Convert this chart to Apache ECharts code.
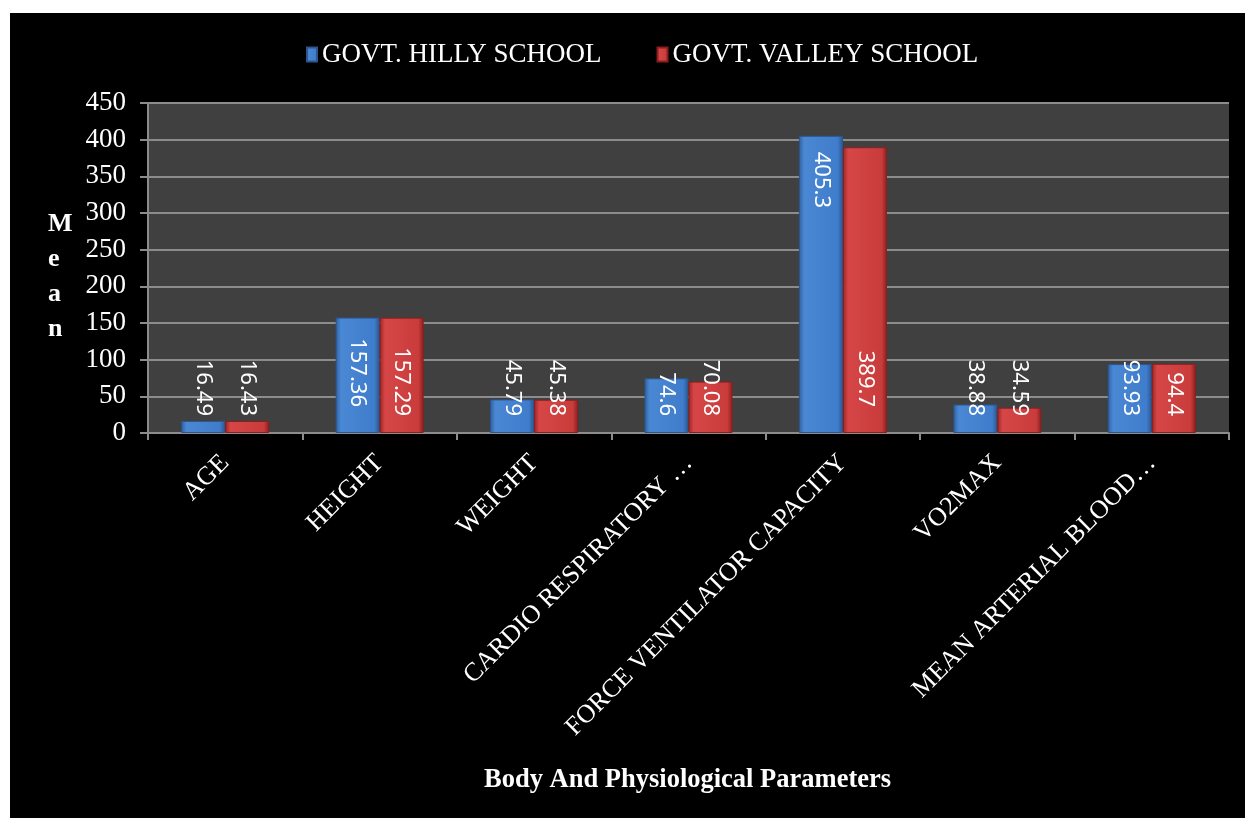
<!DOCTYPE html>
<html>
<head>
<meta charset="utf-8">
<script src="https://cdn.jsdelivr.net/npm/echarts@6/dist/echarts.min.js"></script>
<style>
  html, body { margin: 0; padding: 0; background: #fff; }
  #chart { position: absolute; left: 10px; top: 13px; width: 1235px; height: 805px; }
</style>
</head>
<body>
<div id="chart"></div>
<script>
"use strict";

const categories = ["AGE", "HEIGHT", "WEIGHT", "CARDIO RESPIRATORY …", "FORCE VENTILATOR CAPACITY", "VO2MAX", "MEAN ARTERIAL BLOOD…"];
const hillyValues = [16.49, 157.36, 45.79, 74.6, 405.3, 38.88, 93.93];
const valleyValues = [16.43, 157.29, 45.38, 70.08, 389.7, 34.59, 94.4];
const seriesNames = ["GOVT. HILLY SCHOOL", "GOVT. VALLEY SCHOOL"];

const serif = "'Liberation Serif', 'Times New Roman', serif";

let myChart = echarts.init(document.getElementById('chart'));

function grad(c0, c1, c2, c3) {
  return new echarts.graphic.LinearGradient(0, 0, 1, 0, [
    { offset: 0, color: c0 },
    { offset: 0.12, color: c1 },
    { offset: 0.88, color: c2 },
    { offset: 1, color: c3 },
  ]);
}

const blueFill = grad('#2f5f9e', '#4a88d4', '#3f7ccb', '#2a568f');
const redFill = grad('#9c2424', '#d64646', '#c93c3c', '#8c1e1e');

const baseLabel = {
  show: true,
  rotate: -90,
  position: 'insideBottom',
  distance: 17,
  align: 'right',
  verticalAlign: 'middle',
  color: '#fff',
  fontFamily: "'Noto Sans', sans-serif",
  fontSize: 22,
};

function buildData(values) {
  return values.map(function (v) {
    if (v > 400) {
      return { value: v, label: { position: 'insideTop', distance: 16, align: 'left' } };
    }
    if (v > 157.3) {
      return { value: v, label: { distance: 26 } };
    }
    return v;
  });
}

let option = {
  backgroundColor: '#000',
  animation: false,
  legend: {
    top: 23,
    left: 291,
    itemWidth: 10,
    itemHeight: 14,
    itemGap: 55,
    icon: 'rect',
    textStyle: { color: '#fff', fontFamily: serif, fontSize: 27 },
    data: seriesNames,
  },
  grid: {
    left: 138,
    top: 90,
    right: 16,
    bottom: 385,
    show: true,
    backgroundColor: '#404040',
    borderWidth: 0,
  },
  xAxis: {
    type: 'category',
    data: categories,
    axisLine: { lineStyle: { color: '#8c8c8c', width: 2 } },
    axisTick: { show: true, length: 7, lineStyle: { color: '#8c8c8c', width: 2 } },
    axisLabel: {
      rotate: 45,
      interval: 0,
      margin: 26,
      color: '#fff',
      fontFamily: serif,
      fontSize: 26,
    },
  },
  yAxis: {
    type: 'value',
    min: 0,
    max: 450,
    interval: 50,
    axisLine: { show: true, lineStyle: { color: '#8c8c8c', width: 2 } },
    axisTick: { show: true, length: 8, lineStyle: { color: '#8c8c8c', width: 2 } },
    splitLine: { lineStyle: { color: '#8c8c8c', width: 2 } },
    axisLabel: {
      margin: 22,
      color: '#fff',
      fontFamily: serif,
      fontSize: 27,
    },
  },
  graphic: [
    {
      type: 'text',
      left: 38,
      top: 194,
      style: {
        text: 'M\ne\na\nn',
        fill: '#fff',
        font: "bold 26px 'Liberation Serif', serif",
        lineHeight: 35,
        align: 'center',
      },
    },
    {
      type: 'text',
      left: 474,
      top: 754,
      style: {
        text: 'Body And Physiological Parameters',
        fill: '#fff',
        font: "bold 26.5px 'Liberation Serif', serif",
      },
    },
  ],
  series: [
    {
      name: seriesNames[0],
      type: 'bar',
      barWidth: 44,
      barGap: '0%',
      data: buildData(hillyValues),
      itemStyle: { color: blueFill, borderColor: '#2a568f', borderWidth: 1 },
      label: baseLabel,
    },
    {
      name: seriesNames[1],
      type: 'bar',
      barWidth: 44,
      barGap: '0%',
      data: buildData(valleyValues),
      itemStyle: { color: redFill, borderColor: '#8c1e1e', borderWidth: 1 },
      label: baseLabel,
    },
  ],
};

myChart.setOption(option);
</script>
</body>
</html>
